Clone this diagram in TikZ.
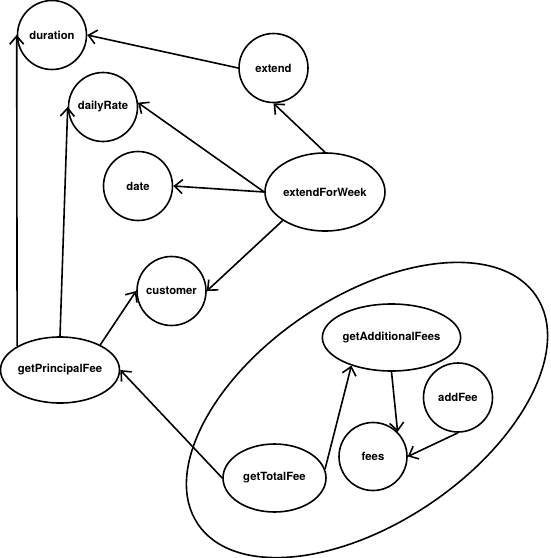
\documentclass[tikz,border=0pt]{standalone}
\usepackage{fontspec}
\setmainfont{TeX Gyre Heros}
\usetikzlibrary{shapes.geometric,arrows.meta}
\tikzset{
  member/.style={
    shape = circle,
    draw,
    line width = 1.6pt,
    inner sep = 0pt,
    minimum size = 69pt,
    font = \fontsize{11.3}{13}\selectfont\bfseries
  },
  longmember/.style={
    shape = ellipse,
    draw,
    line width = 1.6pt,
    inner sep = 0pt,
    minimum width = 118pt,
    minimum height = 67pt,
    font = \fontsize{11.3}{13}\selectfont\bfseries
  },
  uses/.style={
    line width = 1.6pt,
    -{Straight Barb[length=8pt,width=14pt]}
  }
}
\begin{document}
\begin{tikzpicture}[x=1pt,y=1pt]
        \useasboundingbox (0,0) rectangle (550,-558);
        % group of fee methods
        \draw[line width=1.6pt, rotate around={34:(367,-410)}] (367,-410) ellipse (204 and 113);
        \node[member] (duration) at (52,-35) {duration};
        \node[member] (extend) at (273.5,-68) {extend};
        \node[member] (dailyRate) at (103,-107) {dailyRate};
        \node[member] (date) at (138,-186) {date};
        \node[longmember,minimum width=120pt,minimum height=78pt] (extendForWeek) at (325,-192) {extendForWeek};
        \node[member] (customer) at (171.5,-291) {customer};
        \node[longmember,minimum width=116pt,minimum height=66pt] (getPrincipalFee) at (60,-370) {getPrincipalFee};
        \node[longmember,minimum width=123pt] (getAdditionalFees) at (391.5,-337.5) {getAdditionalFees};
        \node[member] (addFee) at (458,-397.5) {addFee};
        \node[member,minimum size=68pt] (fees) at (373,-456.5) {fees};
        \node[longmember,minimum width=103pt,minimum height=68pt] (getTotalFee) at (274.5,-478) {getTotalFee};
        % calls
        \draw[uses] (extend.west) -- (duration.east);
        \draw[uses] (extendForWeek.north) -- (extend.south);
        \draw[uses] (extendForWeek.west) -- (dailyRate.7);
        \draw[uses] (extendForWeek.west) -- (date.east);
        \draw[uses] (extendForWeek.214) -- (customer.east);
        \draw[uses] (getPrincipalFee.151) -- (duration.west);
        \draw[uses] (getPrincipalFee.north) -- (dailyRate.west);
        \draw[uses] (getPrincipalFee.32) -- (customer.west);
        \draw[uses] (getTotalFee.west) -- (getPrincipalFee.east);
        \draw[uses] (getTotalFee.10) -- (getAdditionalFees.215);
        \draw[uses] (getAdditionalFees.south) -- (fees.45);
        \draw[uses] (addFee.south) -- (fees.east);
    \end{tikzpicture}
\end{document}
